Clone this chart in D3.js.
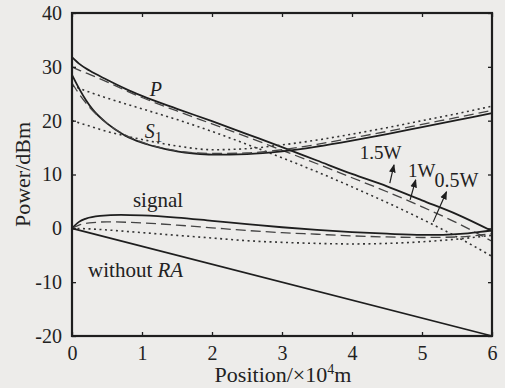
<!DOCTYPE html>
<html><head><meta charset="utf-8">
<script src="https://cdn.jsdelivr.net/npm/d3@7"></script>
<style>
html,body{margin:0;padding:0;background:#edecea;}
svg{display:block;}
text{font-family:"Liberation Serif","Times New Roman",serif;fill:#222;}
</style></head><body>
<svg id="chart" width="505" height="388"></svg>
<script>
// ---- data (x in 10^4 m, y in dBm) ----
const xTicks = [0,1,2,3,4,5,6];
const yTicks = [-20,-10,0,10,20,30,40];

const pump15 = [[0,31.8],[0.1,30.6],[0.25,29.3],[0.5,27.6],[0.75,26.0],[1,24.6],[1.5,22.2],[2,19.9],[2.5,17.5],[3,15.1],[3.5,12.6],[4,10.1],[4.5,7.8],[5,5.2],[5.5,2.6],[6,-0.5]];
const pump10 = [[0,30.0],[0.1,29.4],[0.25,28.6],[0.5,27.2],[0.75,25.7],[1,24.3],[1.5,21.8],[2,19.4],[2.5,17.0],[3,14.5],[3.5,12.0],[4,9.4],[4.5,6.8],[5,4.0],[5.5,1.0],[6,-2.4]];
const pump05 = [[0,26.5],[0.25,25.3],[0.5,24.2],[1,22.2],[1.5,20.2],[2,18.0],[2.5,15.6],[3,13.1],[3.5,10.5],[4,7.7],[4.5,4.8],[5,1.7],[5.5,-1.6],[6,-5.2]];

const stokes15 = [[0,28.5],[0.1,26.0],[0.2,23.8],[0.3,22.0],[0.5,19.5],[0.75,17.3],[1,15.9],[1.25,15.0],[1.5,14.3],[1.75,13.9],[2,13.7],[2.5,13.8],[3,14.3],[3.5,15.2],[4,16.3],[4.5,17.5],[5,18.8],[5.5,20.1],[6,21.4]];
const stokes10 = [[0,27.0],[0.1,25.0],[0.25,22.5],[0.5,19.5],[0.75,17.4],[1,16.0],[1.5,14.4],[2,13.9],[2.5,14.0],[3,14.6],[3.5,15.6],[4,16.8],[4.5,18.0],[5,19.3],[5.5,20.6],[6,21.9]];
const stokes05 = [[0,20.0],[0.25,19.0],[0.5,18.0],[0.75,17.2],[1,16.5],[1.5,15.3],[2,14.6],[2.5,14.8],[3,15.5],[3.5,16.4],[4,17.5],[4.5,18.7],[5,20.0],[5.5,21.3],[6,22.7]];

const signal15 = [[0,0],[0.1,1.2],[0.2,1.8],[0.4,2.3],[0.7,2.5],[1,2.4],[1.5,2.0],[2,1.4],[2.5,0.8],[3,0.2],[3.5,-0.3],[4,-0.7],[4.5,-1.0],[5,-1.2],[5.3,-1.2],[5.6,-1.0],[5.8,-0.7],[6,-0.4]];
const signal10 = [[0,0],[0.1,0.6],[0.25,1.0],[0.5,1.2],[1,1.0],[1.5,0.6],[2,0.1],[2.5,-0.4],[3,-0.8],[3.5,-1.1],[4,-1.4],[4.5,-1.6],[5,-1.7],[5.5,-1.6],[6,-1.0]];
const signal05 = [[0,0],[0.25,-0.1],[0.5,-0.3],[1,-0.8],[1.5,-1.3],[2,-1.8],[2.5,-2.3],[3,-2.6],[3.5,-2.8],[4,-2.9],[4.5,-2.8],[5,-2.5],[5.5,-2.0],[6,-1.3]];

const withoutRA = [[0,0],[6,-20]];

// annotation arrows: [x tail, y tail, x tip, y tip] in data units
const arrows = [[4.54,8.4,4.6,11.8],[4.83,5.3,4.91,9.0],[5.16,1.2,5.35,6.8]];

// ---- drawing ----
const svg = d3.select("#chart");
const x = d3.scaleLinear().domain([0,6]).range([72,492]);
const y = d3.scaleLinear().domain([-20,40]).range([336,13]);
const ink = "#1e1e1e";

svg.append("defs").append("marker")
  .attr("id","ah").attr("viewBox","0 0 10 10").attr("refX",9).attr("refY",5)
  .attr("markerWidth",7).attr("markerHeight",7).attr("orient","auto")
  .append("path").attr("d","M0,1 L10,5 L0,9 Z").attr("fill",ink);

const line = d3.line().x(d=>x(d[0])).y(d=>y(d[1])).curve(d3.curveMonotoneX);

const styles = {
  solid:{w:1.8,dash:null,c:ink},
  dashed:{w:1.3,dash:"10,5",c:"#444"},
  dotted:{w:1.6,dash:"2,3.5",c:"#333"}
};
const series = [
  [pump15,"solid"],[pump10,"dashed"],[pump05,"dotted"],
  [stokes15,"solid"],[stokes10,"dashed"],[stokes05,"dotted"],
  [signal15,"solid"],[signal10,"dashed"],[signal05,"dotted"],
  [withoutRA,"solid"]
];
series.forEach(([d,s])=>{
  svg.append("path").datum(d).attr("d",line)
    .attr("fill","none").attr("stroke",styles[s].c)
    .attr("stroke-width",styles[s].w)
    .attr("stroke-dasharray",styles[s].dash);
});

// axes (inward ticks on all sides)
const tickLen = 4;
const fmt = d=>String(d);
const gB = svg.append("g").attr("transform",`translate(0,${y(-20)})`)
  .call(d3.axisBottom(x).tickValues(xTicks).tickSize(-tickLen).tickPadding(10).tickFormat(fmt));
const gL = svg.append("g").attr("transform",`translate(${x(0)},0)`)
  .call(d3.axisLeft(y).tickValues(yTicks).tickSize(-tickLen).tickPadding(10).tickFormat(fmt));
const gT = svg.append("g").attr("transform",`translate(0,${y(40)})`)
  .call(d3.axisTop(x).tickValues(xTicks).tickSize(-tickLen).tickFormat(""));
const gR = svg.append("g").attr("transform",`translate(${x(6)},0)`)
  .call(d3.axisRight(y).tickValues(yTicks).tickSize(-tickLen).tickFormat(""));
[gB,gL,gT,gR].forEach(g=>{
  g.select(".domain").remove();
  g.selectAll(".tick line").attr("stroke",ink).attr("stroke-width",1.3);
  g.selectAll(".tick text").attr("font-size",20).attr("fill","#2a2a2a")
    .attr("font-family","Liberation Serif, serif");
});

svg.append("rect").attr("x",x(0)).attr("y",y(40))
  .attr("width",x(6)-x(0)).attr("height",y(-20)-y(40))
  .attr("fill","none").attr("stroke",ink).attr("stroke-width",2.2);

// arrows
arrows.forEach(a=>{
  svg.append("line").attr("x1",x(a[0])).attr("y1",y(a[1])).attr("x2",x(a[2])).attr("y2",y(a[3]))
    .attr("stroke",ink).attr("stroke-width",1.2).attr("marker-end","url(#ah)");
});

// labels
const lab = (tx,ty,str,opts={})=>{
  const t = svg.append("text").attr("x",tx).attr("y",ty).attr("font-size",opts.size||21);
  if(opts.italic) t.attr("font-style","italic");
  if(opts.anchor) t.attr("text-anchor",opts.anchor);
  if(str!==null) t.text(str);
  return t;
};
lab(x(1.11),y(24.6),"P",{italic:true,size:20});
const s1 = lab(x(1.04),y(16.8),null,{size:20});
s1.append("tspan").attr("font-style","italic").text("S");
s1.append("tspan").attr("dy",4).attr("font-size",15).text("1");
lab(x(0.87),y(3.9),"signal");
const wra = lab(x(0.23),y(-9.0),null);
wra.append("tspan").text("without ");
wra.append("tspan").attr("font-style","italic").text("RA");
lab(x(4.11),y(12.9),"1.5W",{size:19});
lab(x(4.8),y(9.6),"1W",{size:19});
lab(x(5.18),y(7.6),"0.5W",{size:20});

// axis titles
svg.append("text").attr("transform",`translate(30,${y(10)}) rotate(-90)`)
  .attr("text-anchor","middle").attr("font-size",22).text("Power/dBm");
const xt = svg.append("text").attr("x",283).attr("y",382).attr("text-anchor","middle").attr("font-size",22);
xt.append("tspan").text("Position/×10");
xt.append("tspan").attr("dy",-8).attr("font-size",14).text("4");
xt.append("tspan").attr("dy",8).text("m");
</script>
</body></html>
